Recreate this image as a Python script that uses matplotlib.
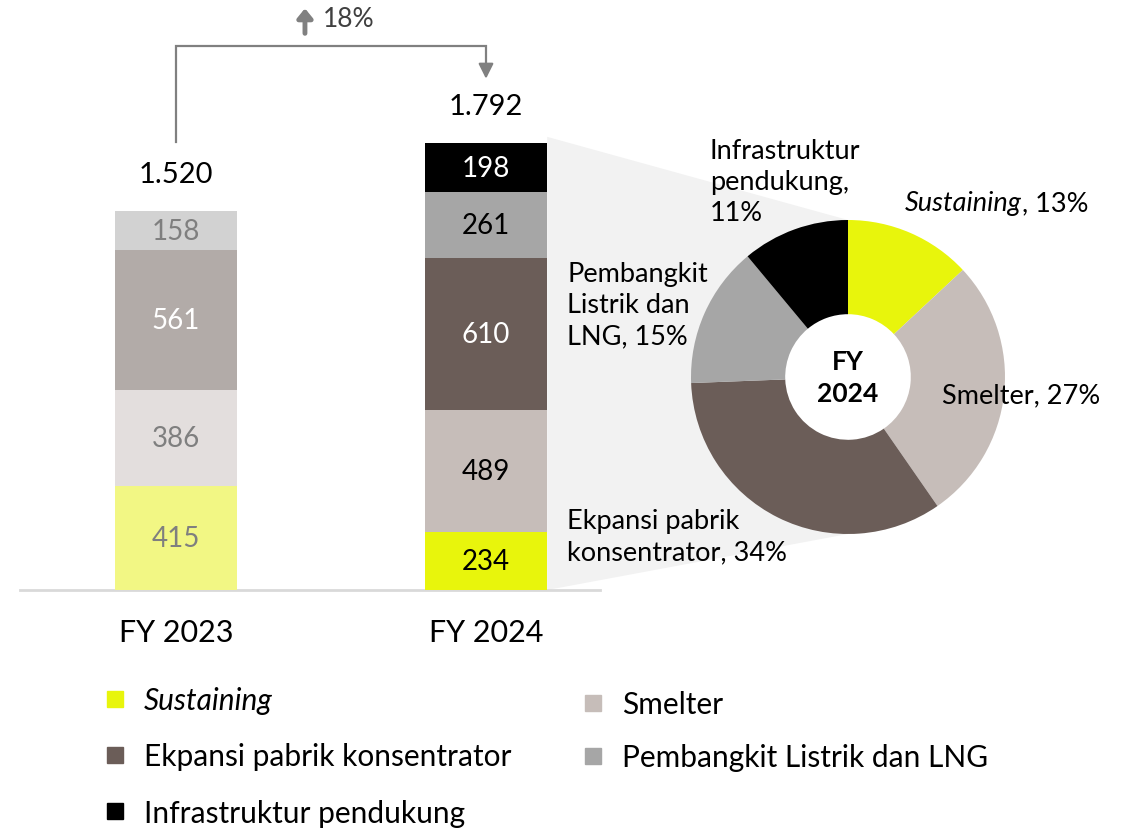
import matplotlib
matplotlib.use("Agg")
import matplotlib.pyplot as plt
from matplotlib.patches import Polygon, Circle
from matplotlib.lines import Line2D

# ---------------- data ----------------
years = ["FY 2023", "FY 2024"]
categories = ["Sustaining", "Smelter", "Ekpansi pabrik konsentrator",
              "Pembangkit Listrik dan LNG", "Infrastruktur pendukung"]
values_2023 = [415, 386, 561, 158, 0]
values_2024 = [234, 489, 610, 261, 198]
growth_label = "18%"

colors_2024 = ["#e8f50c", "#c6bdb9", "#6b5d58", "#a6a6a6", "#000000"]
colors_2023 = ["#f2f784", "#e3dedd", "#b2aba8", "#d2d2d2", "#7f7f7f"]
txt_2024 = ["#000000", "#000000", "#ffffff", "#000000", "#ffffff"]
txt_2023 = ["#7f7f7f", "#7f7f7f", "#ffffff", "#7f7f7f", "#7f7f7f"]

FONT = "Lato"
plt.rcParams["font.family"] = [FONT, "DejaVu Sans"]

W, H = 1122, 829
fig = plt.figure(figsize=(W / 100, H / 100), dpi=100)

def fx(px):
    return px / W

def fy(py):
    return 1 - py / H

# ---------------- bar axes ----------------
base_px = 591
scale = 0.2494  # px per unit
ax = fig.add_axes([0, (H - base_px) / H, 1, base_px / H])
ax.patch.set_visible(False)
ax.set_xlim(-176 / 310, (W - 176) / 310)
ax.set_ylim(0, base_px / scale)
for s in ax.spines.values():
    s.set_visible(False)
ax.set_yticks([])
ax.set_xticks([0, 1])
ax.set_xticklabels(years, fontsize=22)
ax.tick_params(axis="x", length=0, pad=20, colors="#000000")

bw = 0.395
series = [(values_2023, colors_2023, txt_2023), (values_2024, colors_2024, txt_2024)]
for i, (vals, cols, tcols) in enumerate(series):
    bottom = 0
    for v, c, tc in zip(vals, cols, tcols):
        if v > 0:
            ax.bar(i, v, bottom=bottom, width=bw, color=c, zorder=3, linewidth=0)
            ax.text(i, bottom + v / 2, f"{v}", ha="center", va="center",
                    fontsize=20, color=tc, zorder=4)
        bottom += v
    total = sum(vals)
    ax.text(i, total + 95, f"{total:,}".replace(",", "."), ha="center",
            va="bottom", fontsize=21, color="#000000")

# baseline
ax.plot([(20 - 176) / 310, (600 - 176) / 310], [0, 0],
        color="#d9d9d9", lw=2, clip_on=False, zorder=2)

# bracket arrow
t23, t24 = sum(values_2023), sum(values_2024)
y_top = 2181
ax.plot([0, 0, 1, 1], [t23 + 276, y_top, y_top, t24 + 300],
        color="#808080", lw=1.6, solid_joinstyle="miter", zorder=2)
ax.annotate("", xy=(1, t24 + 258), xytext=(1, t24 + 310),
            arrowprops=dict(arrowstyle="-|>,head_length=0.9,head_width=0.45",
                            color="#808080", lw=1.6, shrinkA=0, shrinkB=0))
# growth label
ax.annotate("", xy=(0.416, 2332), xytext=(0.416, 2232),
            arrowprops=dict(arrowstyle="-|>,head_length=0.55,head_width=0.45",
                            color="#808080", lw=3.5, shrinkA=0, shrinkB=0))
ax.text(0.475, 2290, growth_label, ha="left", va="center", fontsize=19,
        color="#404040")

# ---------------- donut ----------------
cx, cy, R = 848, 378, 157
axp = fig.add_axes([fx(cx - R), fy(cy + R), 2 * R / W, 2 * R / H])
axp.patch.set_visible(False)
axp.add_patch(Circle((0, 0), 0.45, facecolor="white", edgecolor="none", zorder=0))
axp.pie(values_2024, colors=colors_2024, startangle=90, counterclock=False,
        radius=1, wedgeprops=dict(width=0.6, linewidth=0))
axp.set_xlim(-1, 1)
axp.set_ylim(-1, 1)
axp.axis("off")
axp.text(0, 0, "FY\n2024", ha="center", va="center", fontsize=19,
         fontweight="bold", linespacing=1.45)

# connector polygon (bar FY2024 -> donut)
fig.canvas.draw()
to_bar = ax.transData.inverted()
top_pt = to_bar.transform(axp.transData.transform((0, 1)))
bot_pt = to_bar.transform(axp.transData.transform((0, -1)))
xr = 1 + bw / 2
poly = Polygon([(xr, t24 + 25), tuple(top_pt), tuple(bot_pt), (xr, 0)],
               closed=True, facecolor="#f2f2f2", edgecolor="none", zorder=1)
ax.add_patch(poly)

# donut labels
total24 = sum(values_2024)
pct = [round(v / total24 * 100) for v in values_2024]
lab_kw = dict(fontsize=19.5, color="#000000", linespacing=1.3)
fig.text(fx(710), fy(139), f"Infrastruktur\npendukung,\n{pct[4]}%",
         ha="left", va="top", **lab_kw)
fig.text(fx(567), fy(262), f"Pembangkit\nListrik dan\nLNG, {pct[3]}%",
         ha="left", va="top", **lab_kw)
fig.text(fx(567), fy(509), f"Ekpansi pabrik\nkonsentrator, {pct[2]}%",
         ha="left", va="top", **lab_kw)
fig.text(fx(942), fy(396), f"Smelter, {pct[1]}%", ha="left", va="center",
         **lab_kw)
t_s = fig.text(fx(905), fy(216), "Sustaining", ha="left", va="bottom",
               fontstyle="italic", **lab_kw)
plt.annotate(f", {pct[0]}%", xy=(1, 0), xycoords=t_s, ha="left", va="bottom",
             fontsize=19.5, color="#000000", annotation_clip=False)

# ---------------- legend ----------------
def handle(c):
    return Line2D([], [], marker="s", linestyle="none", markersize=11,
                  markerfacecolor=c, markeredgecolor=c)

leg_kw = dict(frameon=False, fontsize=21.5, handlelength=0.6, handletextpad=0.68,
              borderpad=0, borderaxespad=0, loc="upper left")
idx1 = [0, 2, 4]
idx2 = [1, 3]
leg1 = fig.legend([handle(colors_2024[i]) for i in idx1],
                  [categories[i] for i in idx1], labelspacing=0.95,
                  bbox_to_anchor=(fx(106), fy(687)), **leg_kw)
leg1.get_texts()[0].set_fontstyle("italic")
leg2 = fig.legend([handle(colors_2024[i]) for i in idx2],
                  [categories[i] for i in idx2], labelspacing=0.85,
                  bbox_to_anchor=(fx(584), fy(691)), **leg_kw)

fig.savefig("out.png", dpi=100)
